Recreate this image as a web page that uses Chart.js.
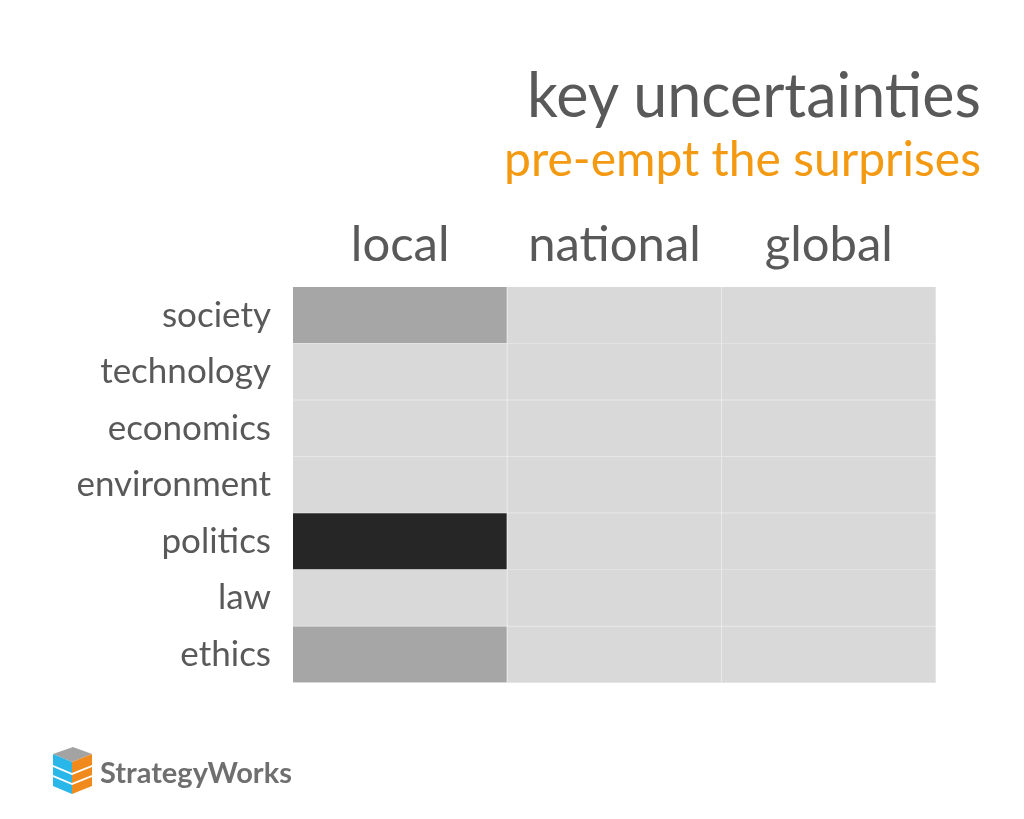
<!DOCTYPE html>
<html>
<head>
<meta charset="utf-8">
<script src="https://cdn.jsdelivr.net/npm/chart.js@4/dist/chart.umd.min.js"></script>
<style>
    body { margin: 0; background: #ffffff; font-family: Lato, "Open Sans", sans-serif; }
    #wrap { position: relative; width: 1024px; height: 819px; overflow: hidden; }
    #heatChart { position: absolute; left: 0; top: 0; }
    .title { position: absolute; right: 43px; white-space: nowrap; line-height: 1; }
    #mainTitle { top: 63px; font-size: 61px; color: #595959; }
    #subTitle { top: 134px; font-size: 48px; color: #f39a12; }
    #logo { position: absolute; left: 52px; top: 746px; }
    #logoText { position: absolute; left: 100px; top: 754px; font-size: 29px; font-weight: bold; color: #6f6f6f; }
</style>
</head>
<body>
<div id="wrap">
    <canvas id="heatChart" width="1024" height="819"></canvas>
    <div class="title" id="mainTitle">key uncertainties</div>
    <div class="title" id="subTitle">pre-empt the surprises</div>
    <svg id="logo" width="42" height="50" viewBox="0 0 42 50">
        <polygon points="1,8 21,1 40,8 20,16" fill="#a3a3a3"/>
        <polygon points="1,8 20,16 20,27 1,19" fill="#29b6e8"/>
        <polygon points="20,16 40,8 40,19 20,27" fill="#f08a1c"/>
        <polygon points="1,21 20,29 20,37 1,29" fill="#29b6e8"/>
        <polygon points="20,29 40,21 40,29 20,37" fill="#f08a1c"/>
        <polygon points="1,31 20,39 20,48 1,40" fill="#29b6e8"/>
        <polygon points="20,39 40,31 40,40 20,48" fill="#f08a1c"/>
    </svg>
    <div id="logoText">StrategyWorks</div>
</div>
<script>
// grid categories
const rows = ["society", "technology", "economics", "environment", "politics", "law", "ethics"];
const cols = ["local", "national", "global"];

// uncertainty level per cell: 0 = low, 1 = medium, 2 = high
const localLevels = [1, 0, 0, 0, 2, 0, 1];
const nationalLevels = [0, 0, 0, 0, 0, 0, 0];
const globalLevels = [0, 0, 0, 0, 0, 0, 0];

const levelColours = ["#d9d9d9", "#a6a6a6", "#262626"];

function makeDataset(name, levels) {
    return {
        label: name,
        data: levels.map(() => 1),
        backgroundColor: levels.map(l => levelColours[l]),
        borderColor: "#e9e9e9",
        borderWidth: { top: 0, left: 0, right: 1, bottom: 1 },
        borderSkipped: false,
        barPercentage: 1,
        categoryPercentage: 1
    };
}

let heatCtx = document.getElementById("heatChart").getContext("2d");
let heatChart = new Chart(heatCtx, {
    type: "bar",
    data: {
        labels: rows,
        datasets: [
            makeDataset(cols[0], localLevels),
            makeDataset(cols[1], nationalLevels),
            makeDataset(cols[2], globalLevels)
        ]
    },
    options: {
        indexAxis: "y",
        responsive: false,
        animation: false,
        devicePixelRatio: 1,
        layout: {
            padding: {
                left: 0,
                right: 88,
                top: 200,
                bottom: 136
            }
        },
        plugins: {
            legend: { display: false },
            tooltip: { enabled: false },
            title: { display: false, text: "" }
        },
        scales: {
            x: {
                type: "linear",
                position: "top",
                stacked: true,
                min: 0,
                max: cols.length,
                grid: { display: false, drawTicks: false },
                border: { display: false },
                afterBuildTicks: (axis) => {
                    axis.ticks = cols.map((c, i) => ({ value: i + 0.5 }));
                },
                afterFit: (axis) => { axis.height = 87; },
                ticks: {
                    autoSkip: false,
                    maxRotation: 0,
                    padding: 12,
                    color: "#595959",
                    font: { family: "Lato", size: 49 },
                    callback: (value, index) => cols[index]
                }
            },
            y: {
                type: "category",
                stacked: true,
                grid: { display: false, drawTicks: false },
                border: { display: false },
                afterFit: (axis) => { axis.width = 293; },
                ticks: {
                    padding: 22,
                    color: "#595959",
                    font: { family: "Lato", size: 35 }
                }
            }
        }
    }
});
</script>
</body>
</html>
